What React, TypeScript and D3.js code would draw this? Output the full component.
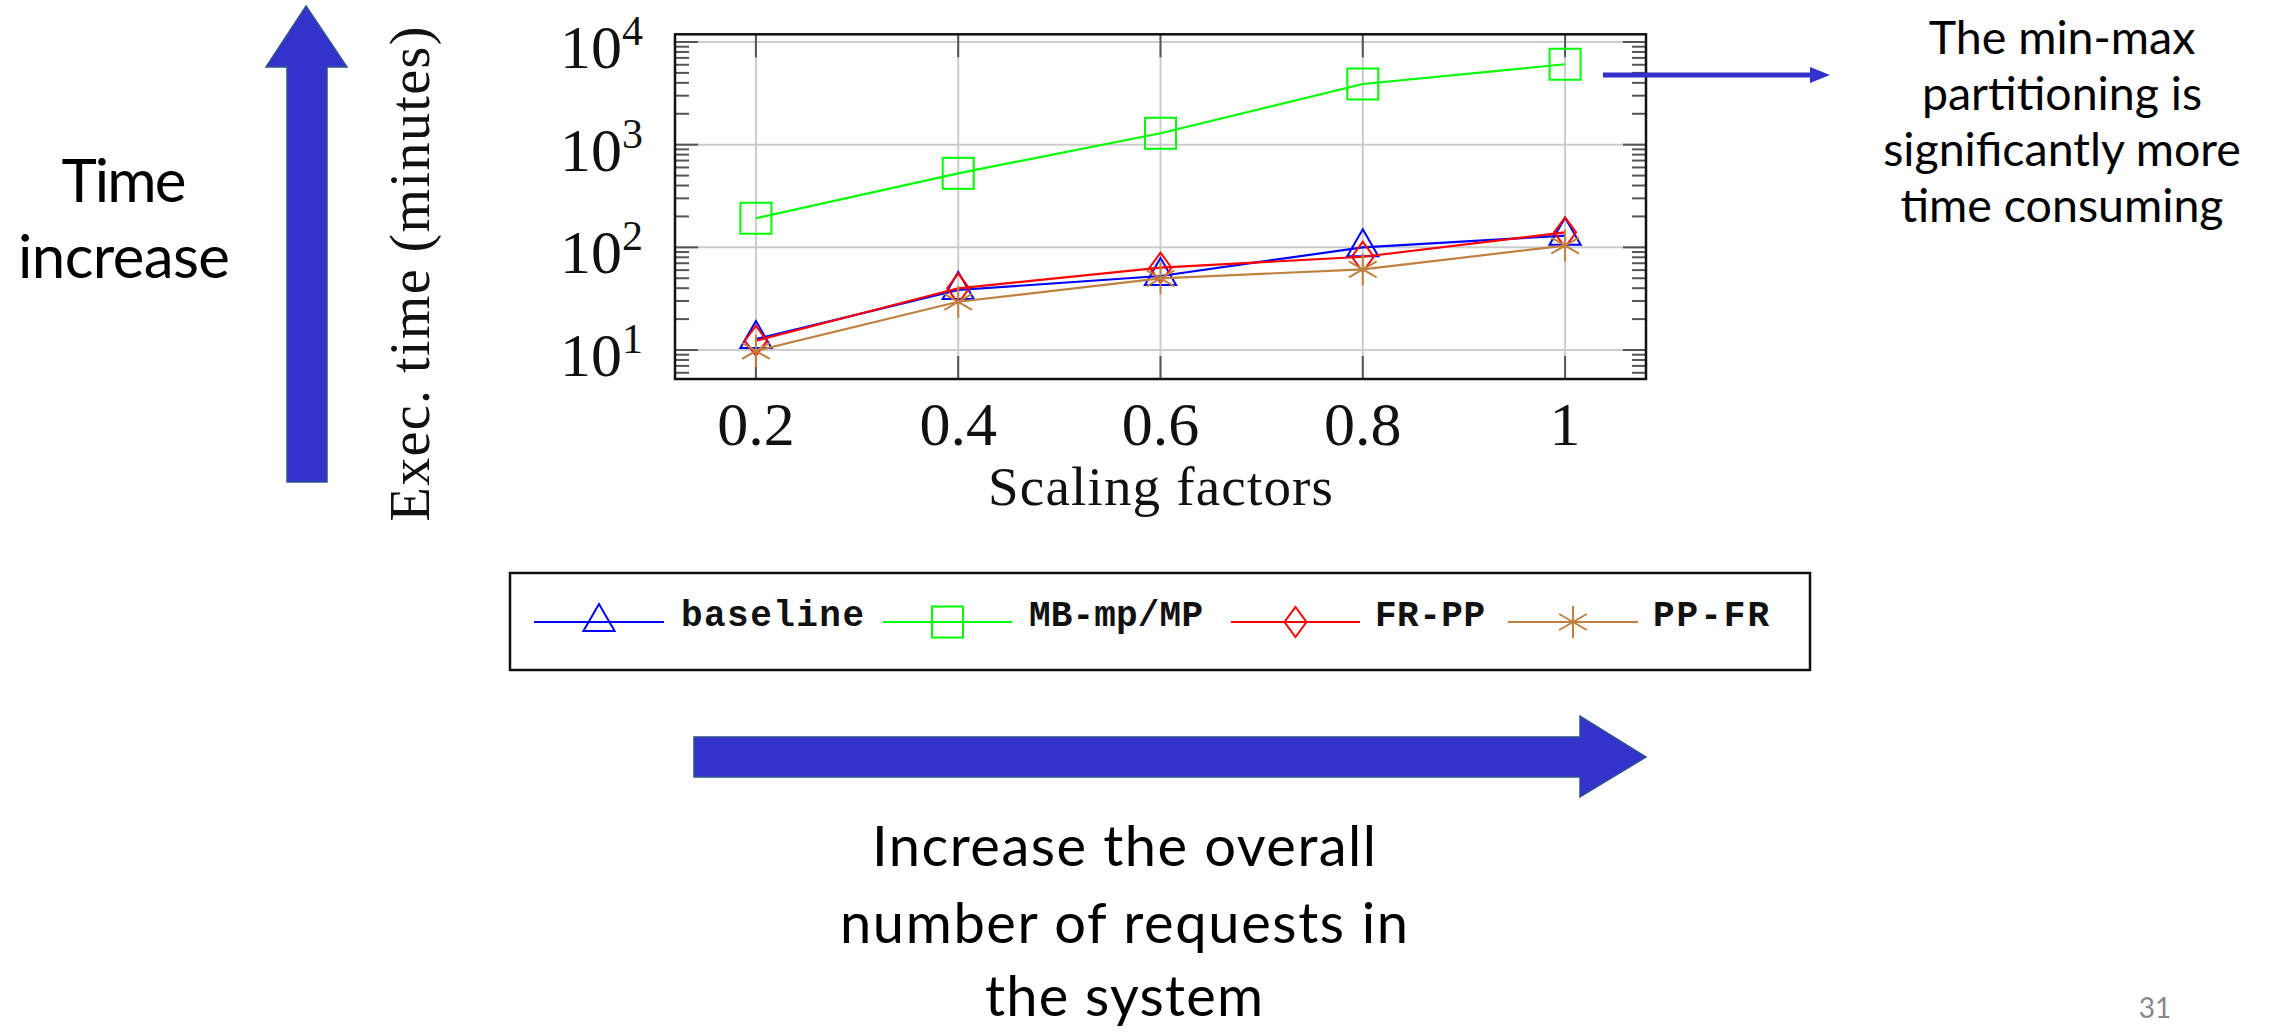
import React from "react";
import * as d3 from "d3";

const xValues = [0.2, 0.4, 0.6, 0.8, 1];
const baselineVals = [12.8, 38.4, 52.6, 100, 130];
const mbmpVals = [192, 526, 1291, 3900, 6070];
const frppVals = [12.3, 39.9, 63.4, 81, 140];
const ppfrVals = [9.8, 29.5, 49.9, 61, 104];
const xTickLabels = ["0.2", "0.4", "0.6", "0.8", "1"];
const yTickExps = [1, 2, 3, 4];
const seriesNames = ["baseline", "MB-mp/MP", "FR-PP", "PP-FR"];
const seriesColors = ["#0000ff", "#00ff00", "#ff0000", "#bf8040"];
const seriesMarks = ["triangle", "square", "diamond", "asterisk"];
const noteLines = ["The min-max", "partitioning is", "significantly more", "time consuming"];
const bottomLines = ["Increase the overall", "number of requests in", "the system"];

const W = 2272, H = 1032;
const PL = 675, PR = 1646, PT = 34.3, PB = 379;
const BLUE = "#3333cc";

function Marker({ type, cx, cy, color }: { type: string; cx: number; cy: number; color: string }) {
  const sw = 2;
  if (type === "triangle") {
    const r = 18;
    const pts = [[cx, cy - r], [cx + r * Math.cos(Math.PI / 6), cy + r / 2], [cx - r * Math.cos(Math.PI / 6), cy + r / 2]];
    return <polygon points={pts.map(p => p.join(",")).join(" ")} fill="none" stroke={color} strokeWidth={sw} />;
  }
  if (type === "square") {
    const s = 31;
    return <rect x={cx - s / 2} y={cy - s / 2} width={s} height={s} fill="none" stroke={color} strokeWidth={sw} />;
  }
  if (type === "diamond") {
    const hw = 11, hh = 15;
    const pts = [[cx, cy - hh], [cx + hw, cy], [cx, cy + hh], [cx - hw, cy]];
    return <polygon points={pts.map(p => p.join(",")).join(" ")} fill="none" stroke={color} strokeWidth={sw} />;
  }
  const r = 16;
  const angles = [90, 30, 150];
  return (
    <g stroke={color} strokeWidth={sw}>
      {angles.map(a => {
        const rad = (a * Math.PI) / 180;
        const dx = r * Math.cos(rad), dy = r * Math.sin(rad);
        return <line key={a} x1={cx - dx} y1={cy - dy} x2={cx + dx} y2={cy + dy} />;
      })}
    </g>
  );
}

export default function App() {
  const x = d3.scaleLinear().domain([0.12, 1.08]).range([PL, PR]);
  const y = d3.scaleLog().domain([Math.pow(10, 0.7176), Math.pow(10, 4.075)]).range([PB, PT]);
  const allSeries = [baselineVals, mbmpVals, frppVals, ppfrVals];
  const line = d3.line<[number, number]>().x(d => x(d[0])).y(d => y(d[1]));

  const minorTicks: number[] = [];
  for (let e = 0; e <= 4; e++) {
    for (let m = 2; m <= 9; m++) {
      const v = m * Math.pow(10, e);
      const [lo, hi] = y.domain();
      if (v > lo && v < hi) minorTicks.push(v);
    }
  }
  const majorY = yTickExps.map(e => Math.pow(10, e));

  const legendItems = [
    { x1: 534, x2: 664, tx: 681, tw: 183 },
    { x1: 883, x2: 1012, tx: 1029, tw: 174 },
    { x1: 1231, x2: 1360, tx: 1375, tw: 110 },
    { x1: 1508, x2: 1638, tx: 1653, tw: 116 },
  ];
  const legendY = 622;
  const noteBase = [54, 110, 166, 222];
  const bottomBase = [866, 943, 1016];
  const bottomLen = [504, 568, 278];

  return (
    <svg width={W} height={H} style={{ position: "absolute", left: 0, top: 0, background: "#fff" }}>
      <rect x={0} y={0} width={W} height={H} fill="#fff" />
      {/* Up arrow */}
      <polygon points="306,6 347,67 327,67 327,482 287,482 287,67 266,67" fill={BLUE} stroke="#2f528f" strokeWidth={1.5} />
      <text x={124} y={202} textAnchor="middle" fontFamily="Lato, 'Open Sans', sans-serif" fontSize={60} fill="#000" textLength={125}>Time</text>
      <text x={124} y={278} textAnchor="middle" fontFamily="Lato, 'Open Sans', sans-serif" fontSize={60} fill="#000" textLength={212}>increase</text>

      {/* Grid */}
      <g stroke="#cccccc" strokeWidth={2}>
        {xValues.map(v => <line key={"gx" + v} x1={x(v)} x2={x(v)} y1={PT} y2={PB} />)}
        {majorY.map(v => <line key={"gy" + v} x1={PL} x2={PR} y1={y(v)} y2={y(v)} />)}
      </g>
      {/* ticks */}
      <g stroke="#555" strokeWidth={2}>
        {xValues.map(v => (
          <g key={"tx" + v}>
            <line x1={x(v)} x2={x(v)} y1={PB} y2={PB - 23} />
            <line x1={x(v)} x2={x(v)} y1={PT} y2={PT + 23} />
          </g>
        ))}
        {majorY.map(v => (
          <g key={"ty" + v}>
            <line x1={PL} x2={PL + 23} y1={y(v)} y2={y(v)} />
            <line x1={PR} x2={PR - 23} y1={y(v)} y2={y(v)} />
          </g>
        ))}
        {minorTicks.map(v => (
          <g key={"my" + v}>
            <line x1={PL} x2={PL + 14} y1={y(v)} y2={y(v)} />
            <line x1={PR} x2={PR - 14} y1={y(v)} y2={y(v)} />
          </g>
        ))}
      </g>

      {/* series */}
      {allSeries.map((vals, i) => {
        const pts = xValues.map((xv, j) => [xv, vals[j]] as [number, number]);
        return (
          <g key={"s" + i}>
            <path d={line(pts) || ""} fill="none" stroke={seriesColors[i]} strokeWidth={2.2} />
            {pts.map((p, j) => <Marker key={j} type={seriesMarks[i]} cx={x(p[0])} cy={y(p[1])} color={seriesColors[i]} />)}
          </g>
        );
      })}

      {/* frame */}
      <rect x={PL} y={PT} width={PR - PL} height={PB - PT} fill="none" stroke="#111" strokeWidth={2.5} />

      {/* y tick labels */}
      {yTickExps.map(e => {
        const gy = y(Math.pow(10, e));
        return (
          <text key={"yl" + e} x={643} y={gy + 26} textAnchor="end" fontFamily="'Liberation Serif', 'DejaVu Serif', serif" fontSize={62} fill="#111">
            10<tspan dy={-23} fontSize={42}>{e}</tspan>
          </text>
        );
      })}
      {/* x tick labels */}
      {xValues.map((v, i) => (
        <text key={"xl" + v} x={x(v)} y={445} textAnchor="middle" fontFamily="'Liberation Serif', 'DejaVu Serif', serif" fontSize={62} fill="#111">{xTickLabels[i]}</text>
      ))}
      <text x={(PL + PR) / 2} y={505} textAnchor="middle" fontFamily="'Liberation Serif', 'DejaVu Serif', serif" fontSize={55} fill="#111" textLength={345}>Scaling factors</text>
      <text transform="translate(429,274) rotate(-90)" textAnchor="middle" fontFamily="'Liberation Serif', 'DejaVu Serif', serif" fontSize={56} fill="#111" textLength={495}>Exec. time (minutes)</text>

      {/* legend */}
      <rect x={510} y={573} width={1300} height={97} fill="#fff" stroke="#111" strokeWidth={2.5} />
      {legendItems.map((it, i) => (
        <g key={"lg" + i}>
          <line x1={it.x1} x2={it.x2} y1={legendY} y2={legendY} stroke={seriesColors[i]} strokeWidth={2.2} />
          <Marker type={seriesMarks[i]} cx={(it.x1 + it.x2) / 2} cy={legendY} color={seriesColors[i]} />
          <text x={it.tx} y={legendY + 4} fontFamily="'Liberation Mono', 'DejaVu Sans Mono', monospace" fontWeight="bold" fontSize={36} fill="#111" textLength={it.tw}>{seriesNames[i]}</text>
        </g>
      ))}

      {/* thin right arrow */}
      <line x1={1603} x2={1812} y1={75} y2={75} stroke={BLUE} strokeWidth={5} />
      <polygon points="1810,67 1830,75 1810,83" fill={BLUE} />
      <g fontFamily="Lato, 'Open Sans', sans-serif" fontSize={46.5} fill="#000" textAnchor="middle">
        {noteLines.map((t, i) => <text key={t} x={2062} y={noteBase[i]}>{t}</text>)}
      </g>

      {/* bottom arrow */}
      <polygon points="694,737 1580,737 1580,716 1646,757 1580,797 1580,777 694,777" fill={BLUE} stroke="#2f528f" strokeWidth={1.5} />
      <g fontFamily="Lato, 'Open Sans', sans-serif" fontSize={56} fill="#000" textAnchor="middle">
        {bottomLines.map((t, i) => <text key={t} x={1124} y={bottomBase[i]} textLength={bottomLen[i]}>{t}</text>)}
      </g>
      <text x={2155} y={1018} textAnchor="middle" fontFamily="Lato, 'Open Sans', sans-serif" fontSize={28} fill="#888">31</text>
    </svg>
  );
}
